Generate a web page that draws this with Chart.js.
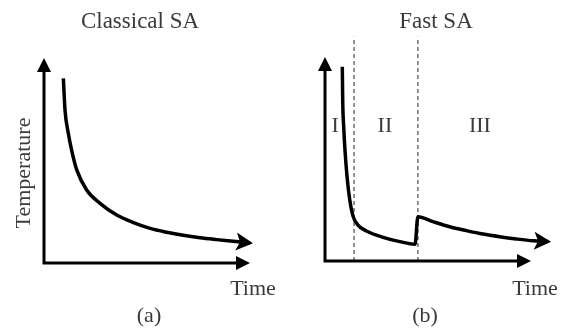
<!DOCTYPE html>
<html>
<head>
<meta charset="utf-8">
<script src="https://cdn.jsdelivr.net/npm/chart.js@4.4.1/dist/chart.umd.min.js"></script>
<style>
  body { margin: 0; background: #fff; }
  .row { display: flex; width: 566px; height: 329px; }
  canvas { display: block; }
</style>
</head>
<body>
<div class="row">
  <canvas id="classical" width="283" height="329"></canvas>
  <canvas id="fast" width="283" height="329"></canvas>
</div>
<script>
// (a) classical SA: temperature decays smoothly with time
const classicalTime = [0.94, 1.02, 1.18, 1.34, 1.59, 2.07, 2.72, 3.53, 4.34, 5.15, 5.96, 6.76, 7.57, 8.38, 9.19, 10.0];
const classicalTemp = [9.01, 7.46, 6.33, 5.51, 4.54, 3.56, 2.91, 2.34, 1.97, 1.69, 1.50, 1.35, 1.23, 1.14, 1.06, 0.98];

// (b) fast SA: steep drop, slow phase, reheat, then slow decay
const fastTime = [0.84, 0.86, 0.91, 0.97, 1.07, 1.20, 1.36, 1.60, 2.01, 2.82, 3.63, 4.37, 4.51, 5.24, 6.05, 6.86, 7.67, 8.48, 9.29, 10.10, 10.83];
const fastTemp = [9.52, 7.84, 6.53, 5.44, 4.14, 3.01, 2.20, 1.76, 1.47, 1.16, 0.95, 0.82, 2.17, 1.93, 1.68, 1.49, 1.32, 1.19, 1.08, 0.99, 0.95];

// phase boundaries (dashed) and phase names
const phaseBounds = [1.41, 4.51];
const phaseNames = ['I', 'II', 'III'];
const phaseNameX = [0.49, 2.91, 7.52];

const axisTop = 10;   // arrow tip of both axes, in data units
const scaleMax = 11;

const FONT = 'Liberation Serif';
const INK = '#3a3a3a';

function arrowHead(ctx, fx, fy, tx, ty, len, half, notch) {
  const a = Math.atan2(ty - fy, tx - fx);
  const c = Math.cos(a), s = Math.sin(a);
  ctx.beginPath();
  ctx.moveTo(tx, ty);
  ctx.lineTo(tx - len * c + half * s, ty - len * s - half * c);
  ctx.lineTo(tx - (len - notch) * c, ty - (len - notch) * s);
  ctx.lineTo(tx - len * c - half * s, ty - len * s + half * c);
  ctx.closePath();
  ctx.fill();
}

const sketch = {
  id: 'sketch',
  afterDatasetsDraw(chart, args, opts) {
    const ctx = chart.ctx;
    const { x, y } = chart.scales;
    const x0 = x.getPixelForValue(0), y0 = y.getPixelForValue(0);
    const xt = x.getPixelForValue(axisTop), yt = y.getPixelForValue(axisTop);
    ctx.save();
    ctx.strokeStyle = '#000';
    ctx.fillStyle = '#000';
    ctx.lineWidth = 3;
    ctx.lineCap = 'square';
    ctx.beginPath();
    ctx.moveTo(x0, yt + 8);
    ctx.lineTo(x0, y0);
    ctx.lineTo(xt - 8, y0);
    ctx.stroke();
    arrowHead(ctx, x0, y0, x0, yt, 14, 7, 0);
    arrowHead(ctx, x0, y0, xt, y0, 14, 7, 0);

    // arrow on the end of the temperature curve
    const pts = chart.getDatasetMeta(0).data;
    const p1 = pts[pts.length - 2], p2 = pts[pts.length - 1];
    const d = Math.hypot(p2.x - p1.x, p2.y - p1.y);
    arrowHead(ctx, p1.x, p1.y, p2.x + 3 * (p2.x - p1.x) / d, p2.y + 3 * (p2.y - p1.y) / d, 17, 9, 4);

    // texts
    ctx.fillStyle = INK;
    ctx.textAlign = 'center';
    ctx.textBaseline = 'middle';
    for (const t of opts.texts) {
      ctx.font = t.size + 'px "' + FONT + '"';
      ctx.save();
      ctx.translate(t.x, t.y);
      if (t.rot) ctx.rotate(t.rot);
      ctx.fillText(t.text, 0, 0);
      ctx.restore();
    }
    if (opts.phases) {
      ctx.font = '22px "' + FONT + '"';
      phaseNames.forEach((n, i) => {
        ctx.fillText(n, x.getPixelForValue(phaseNameX[i]), opts.phaseY);
      });
    }
    ctx.restore();
  }
};

function baseOptions(padding, texts, phases, phaseY) {
  return {
    responsive: false,
    animation: false,
    layout: { padding: padding },
    scales: {
      x: { type: 'linear', min: 0, max: scaleMax, display: false },
      y: { type: 'linear', min: 0, max: scaleMax, display: false }
    },
    plugins: {
      legend: { display: false },
      tooltip: { enabled: false },
      sketch: { texts: texts, phases: phases, phaseY: phaseY }
    }
  };
}

function curve(times, temps) {
  return {
    data: times.map((t, i) => ({ x: t, y: temps[i] })),
    borderColor: '#000',
    borderWidth: 3.5,
    pointRadius: 0,
    cubicInterpolationMode: 'monotone',
    fill: false
  };
}

new Chart(document.getElementById('classical'), {
  type: 'line',
  data: { datasets: [curve(classicalTime, classicalTemp)] },
  options: baseOptions(
    { left: 44, right: 12.4, top: 37.5, bottom: 66 },
    [
      { text: 'Classical SA', x: 140, y: 22, size: 23 },
      { text: 'Temperature', x: 24, y: 173, size: 22, rot: -Math.PI / 2 },
      { text: 'Time', x: 253, y: 289, size: 22 },
      { text: '(a)', x: 149, y: 316, size: 22 }
    ],
    false, 0
  ),
  plugins: [sketch]
});

const dashed = phaseBounds.map(b => ({
  data: [{ x: b, y: 0 }, { x: b, y: scaleMax }],
  borderColor: '#555',
  borderWidth: 1.3,
  borderDash: [4, 3],
  pointRadius: 0
}));

new Chart(document.getElementById('fast'), {
  type: 'line',
  data: { datasets: [curve(fastTime, fastTemp)].concat(dashed) },
  options: baseOptions(
    { left: 42, right: 14.4, top: 36.6, bottom: 68 },
    [
      { text: 'Fast SA', x: 153, y: 22, size: 23 },
      { text: 'Time', x: 252, y: 289, size: 22 },
      { text: '(b)', x: 142, y: 316, size: 22 }
    ],
    true, 126
  ),
  plugins: [sketch]
});
</script>
</body>
</html>
